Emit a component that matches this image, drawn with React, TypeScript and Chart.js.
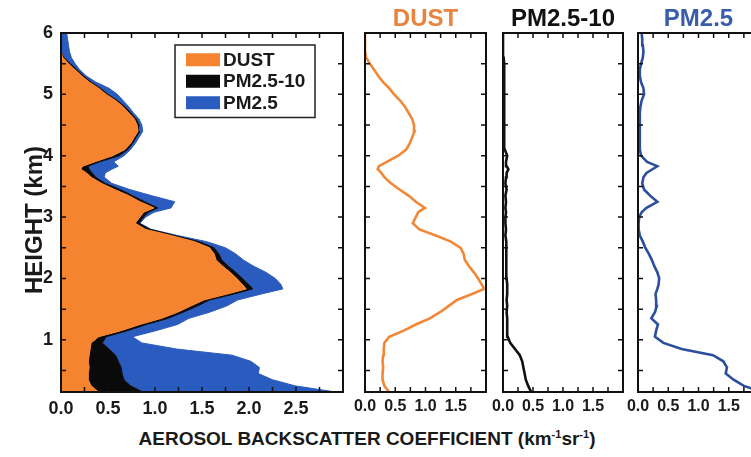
import React, { useEffect, useRef } from 'react';
import { Chart, registerables } from 'chart.js';

Chart.register(...registerables);

const FONT = "'Liberation Sans', Arial, Helvetica, sans-serif";
Chart.defaults.font.family = FONT;

// Heights (km)
const heights = [
  0.15, 0.25, 0.35, 0.45, 0.55, 0.65, 0.75, 0.85, 0.95, 1.05, 1.15, 1.25, 1.35, 1.45, 1.55, 1.65, 1.75,
  1.83, 1.9, 2.0, 2.1, 2.2, 2.3, 2.4, 2.5, 2.6, 2.7, 2.8, 2.9, 3.0, 3.08, 3.15, 3.25, 3.35, 3.45, 3.55,
  3.65, 3.72, 3.78, 3.83, 3.9, 4.0, 4.1, 4.2, 4.3, 4.4, 4.5, 4.6, 4.7, 4.8, 4.9, 5.0, 5.1, 5.2, 5.3,
  5.4, 5.5, 5.6, 5.7, 5.8, 5.9, 6.0,
];

// DUST backscatter
const dust = [
  0.40, 0.32, 0.29, 0.29, 0.30, 0.29, 0.30, 0.31, 0.32, 0.40, 0.64, 0.84, 1.07, 1.24, 1.38, 1.52, 1.78,
  1.97, 1.93, 1.87, 1.80, 1.72, 1.65, 1.63, 1.58, 1.42, 1.17, 0.90, 0.79, 0.84, 0.88, 0.99, 0.84, 0.72, 0.57, 0.43,
  0.32, 0.27, 0.21, 0.23, 0.36, 0.55, 0.68, 0.74, 0.78, 0.82, 0.81, 0.78, 0.72, 0.66, 0.58, 0.48, 0.40, 0.30, 0.22,
  0.15, 0.08, 0.02, 0, 0, 0, 0,
];

// PM2.5-10 backscatter
const coarse = [
  0.47, 0.42, 0.38, 0.36, 0.34, 0.32, 0.28, 0.20, 0.12, 0.08, 0.07, 0.07, 0.07, 0.06, 0.07, 0.06, 0.07,
  0.07, 0.07, 0.06, 0.06, 0.06, 0.06, 0.05, 0.05, 0.05, 0.04, 0.05, 0.04, 0.04, 0.05, 0.04, 0.05, 0.04, 0.06, 0.04,
  0.05, 0.06, 0.09, 0.06, 0.05, 0.07, 0.03, 0.02, 0.02, 0.02, 0.02, 0.02, 0.02, 0.02, 0.02, 0.02, 0.02, 0.02, 0.02,
  0.02, 0.02, 0.01, 0, 0, 0, 0,
];

// PM2.5 backscatter
const fine = [
  2.05, 1.75, 1.58, 1.45, 1.47, 1.41, 1.24, 0.72, 0.42, 0.28, 0.30, 0.33, 0.22, 0.28, 0.31, 0.30, 0.29,
  0.32, 0.34, 0.35, 0.32, 0.27, 0.23, 0.18, 0.12, 0.08, 0.03, 0.01, 0.01, 0.02, 0.06, 0.14, 0.32, 0.20, 0.10, 0.07,
  0.09, 0.14, 0.24, 0.32, 0.15, 0.05, 0.03, 0.03, 0.03, 0.03, 0.03, 0.03, 0.03, 0.04, 0.06, 0.10, 0.09, 0.05, 0.03,
  0.03, 0.05, 0.08, 0.09, 0.08, 0.07, 0.06,
];

const seriesLabels = ['DUST', 'PM2.5-10', 'PM2.5'];
const seriesValues = [dust, coarse, fine];
const fillColors = ['#F5832F', '#0A0A0A', '#2A5BBE'];
const lineColors = ['#F08838', '#111111', '#2B4E9E'];
const titleColors = ['#E8843E', '#111111', '#3A5DAA'];

const mainXTicks = [0, 0.5, 1, 1.5, 2, 2.5];
const smallXTicks = [0, 0.5, 1, 1.5];
const heightTicks = [1, 2, 3, 4, 5, 6];
const heightTitle = 'HEIGHT (km)';

const INK = '#1a1a1a';

const framePlugin = {
  id: 'frame',
  afterDraw(chart: any, _args: any, opts: any) {
    const { ctx, chartArea: a, scales } = chart;
    const xs = scales.x;
    const ys = scales.y;
    const len = 5;
    ctx.save();
    ctx.strokeStyle = '#111';
    ctx.lineWidth = 1.5;
    ctx.beginPath();
    for (let v = xs.min; v <= xs.max + 1e-9; v += opts.xStep) {
      const px = xs.getPixelForValue(v);
      ctx.moveTo(px, a.bottom);
      ctx.lineTo(px, a.bottom - len);
      ctx.moveTo(px, a.top);
      ctx.lineTo(px, a.top + len);
    }
    const y0 = Math.ceil(ys.min / opts.yStep - 1e-9) * opts.yStep;
    for (let v = y0; v <= ys.max + 1e-9; v += opts.yStep) {
      const py = ys.getPixelForValue(v);
      ctx.moveTo(a.left, py);
      ctx.lineTo(a.left + len, py);
      ctx.moveTo(a.right, py);
      ctx.lineTo(a.right - len, py);
    }
    ctx.stroke();
    ctx.lineWidth = 2;
    ctx.strokeRect(a.left, a.top, a.right - a.left, a.bottom - a.top);
    ctx.restore();
  },
};

const yTitlePlugin = {
  id: 'yTitle',
  afterDraw(chart: any, _args: any, opts: any) {
    const { ctx } = chart;
    ctx.save();
    ctx.translate(opts.x, opts.y);
    ctx.rotate(-Math.PI / 2);
    ctx.font = `bold ${opts.fontSize}px ${FONT}`;
    ctx.fillStyle = INK;
    ctx.textAlign = 'center';
    ctx.textBaseline = 'middle';
    ctx.fillText(opts.text, 0, 0);
    ctx.restore();
  },
};

const legendBoxPlugin = {
  id: 'legendBox',
  afterDraw(chart: any, _args: any, opts: any) {
    const { ctx, chartArea: a } = chart;
    const ds = chart.data.datasets;
    const bx = a.left + opts.offsetX;
    const by = a.top + opts.offsetY;
    const h = opts.padY * 2 + opts.rowHeight * ds.length;
    ctx.save();
    ctx.fillStyle = '#fff';
    ctx.fillRect(bx, by, opts.width, h);
    ctx.strokeStyle = '#222';
    ctx.lineWidth = 1.5;
    ctx.strokeRect(bx, by, opts.width, h);
    ctx.font = `bold ${opts.fontSize}px ${FONT}`;
    ctx.textBaseline = 'middle';
    ds.forEach((d: any, i: number) => {
      const cy = by + opts.padY + opts.rowHeight * (i + 0.5);
      ctx.fillStyle = d.backgroundColor;
      ctx.fillRect(bx + 11, cy - 6.5, 34, 13);
      ctx.fillStyle = INK;
      ctx.fillText(d.label, bx + 48, cy + 1);
    });
    ctx.restore();
  },
};

const tickFont = (size: number) => ({ family: FONT, size, weight: 'bold' as const });

function mainConfig(): any {
  return {
    type: 'line',
    data: {
      datasets: seriesValues.map((vals, i) => ({
        label: seriesLabels[i],
        data: heights.map((h, k) => ({ x: vals[k], y: h })),
        backgroundColor: fillColors[i],
        borderColor: fillColors[i],
        borderWidth: 1,
        pointRadius: 0,
        tension: 0,
        fill: i === 0 ? 'origin' : '-1',
      })),
    },
    options: {
      indexAxis: 'y',
      animation: false,
      responsive: false,
      devicePixelRatio: 1,
      layout: { padding: { left: 0, top: 33, right: 7, bottom: 0 } },
      scales: {
        x: {
          type: 'linear',
          stacked: true,
          min: 0,
          max: 3,
          afterBuildTicks: (s: any) => {
            s.ticks = mainXTicks.map((v) => ({ value: v }));
          },
          afterFit: (s: any) => {
            s.height = 28;
          },
          grid: { display: false, drawTicks: false },
          border: { display: false },
          ticks: {
            autoSkip: false,
            maxRotation: 0,
            padding: 6,
            color: INK,
            font: tickFont(18),
            callback: (v: any) => Number(v).toFixed(1),
          },
        },
        y: {
          type: 'linear',
          min: 0.15,
          max: 6,
          afterBuildTicks: (s: any) => {
            s.ticks = heightTicks.map((v) => ({ value: v }));
          },
          afterFit: (s: any) => {
            s.width = 61;
          },
          grid: { display: false, drawTicks: false },
          border: { display: false },
          ticks: {
            padding: 8,
            color: INK,
            font: tickFont(18),
            callback: (v: any) => String(v),
          },
        },
      },
      plugins: {
        legend: { display: false },
        tooltip: { enabled: false },
        frame: { xStep: 0.25, yStep: 0.5 },
        yTitle: { text: heightTitle, x: 35, y: 220, fontSize: 24 },
        legendBox: { offsetX: 114, offsetY: 12, width: 140, padY: 4, rowHeight: 21.5, fontSize: 19 },
      },
    },
    plugins: [framePlugin, yTitlePlugin, legendBoxPlugin],
  };
}

function smallConfig(i: number, padLeft: number, padRight: number): any {
  return {
    type: 'line',
    data: {
      datasets: [
        {
          label: seriesLabels[i],
          data: heights.map((h, k) => ({ x: seriesValues[i][k], y: h })),
          borderColor: lineColors[i],
          backgroundColor: lineColors[i],
          borderWidth: 2.6,
          pointRadius: 0,
          tension: 0,
          fill: false,
        },
      ],
    },
    options: {
      indexAxis: 'y',
      animation: false,
      responsive: false,
      devicePixelRatio: 1,
      layout: { padding: { left: padLeft, top: 0, right: padRight, bottom: 0 } },
      scales: {
        x: {
          type: 'linear',
          min: 0,
          max: 2,
          afterBuildTicks: (s: any) => {
            s.ticks = smallXTicks.map((v) => ({ value: v }));
          },
          afterFit: (s: any) => {
            s.height = 28;
          },
          grid: { display: false, drawTicks: false },
          border: { display: false },
          ticks: {
            autoSkip: false,
            maxRotation: 0,
            padding: 5,
            color: INK,
            font: tickFont(16),
            callback: (v: any) => Number(v).toFixed(1),
          },
        },
        y: {
          type: 'linear',
          display: false,
          min: 0.15,
          max: 6,
        },
      },
      plugins: {
        legend: { display: false },
        tooltip: { enabled: false },
        title: {
          display: true,
          text: seriesLabels[i],
          color: titleColors[i],
          fullSize: false,
          font: { family: FONT, size: 24, weight: 'bold', lineHeight: 1 },
          padding: { top: 7, bottom: 2 },
        },
        frame: { xStep: 0.25, yStep: 0.5 },
      },
    },
    plugins: [framePlugin],
  };
}

export default function App() {
  const mainRef = useRef<HTMLCanvasElement>(null);
  const dustRef = useRef<HTMLCanvasElement>(null);
  const coarseRef = useRef<HTMLCanvasElement>(null);
  const fineRef = useRef<HTMLCanvasElement>(null);

  useEffect(() => {
    const charts: Chart[] = [];
    if (mainRef.current) charts.push(new Chart(mainRef.current, mainConfig()));
    if (dustRef.current) charts.push(new Chart(dustRef.current, smallConfig(0, 20, 14)));
    if (coarseRef.current) charts.push(new Chart(coarseRef.current, smallConfig(1, 20, 15)));
    if (fineRef.current) charts.push(new Chart(fineRef.current, smallConfig(2, 20, 14)));
    return () => charts.forEach((c) => c.destroy());
  }, []);

  const canvasStyle = (left: number, width: number): React.CSSProperties => ({
    position: 'absolute',
    left,
    top: 0,
    width,
    height: 420,
  });

  const supStyle: React.CSSProperties = { fontSize: 11, lineHeight: 0, verticalAlign: 'super' };

  return (
    <div
      style={{
        position: 'fixed',
        left: 0,
        top: 0,
        width: 751,
        height: 457,
        overflow: 'hidden',
        background: '#fff',
        fontFamily: FONT,
      }}
    >
      <canvas ref={mainRef} width={350} height={420} style={canvasStyle(0, 350)} />
      <canvas ref={dustRef} width={155} height={420} style={canvasStyle(345, 155)} />
      <canvas ref={coarseRef} width={155} height={420} style={canvasStyle(483, 155)} />
      <canvas ref={fineRef} width={155} height={420} style={canvasStyle(618, 155)} />
      <div
        style={{
          position: 'absolute',
          left: 0,
          top: 428,
          width: 734,
          textAlign: 'center',
          fontFamily: FONT,
          fontWeight: 'bold',
          fontSize: 19,
          lineHeight: '22px',
          color: INK,
          whiteSpace: 'nowrap',
        }}
      >
        AEROSOL BACKSCATTER COEFFICIENT (km<sup style={supStyle}>-1</sup>sr<sup style={supStyle}>-1</sup>)
      </div>
    </div>
  );
}
